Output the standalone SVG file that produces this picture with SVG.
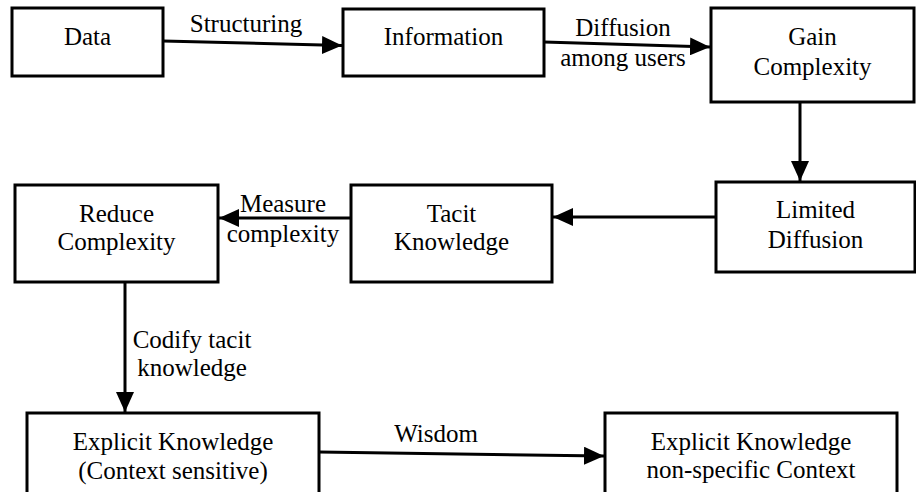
<svg xmlns="http://www.w3.org/2000/svg" width="916" height="492" viewBox="0 0 916 492">
<defs>
<style>
.box{fill:#fff;stroke:#000;stroke-width:3}
.t{font-family:'Liberation Serif','Times New Roman',serif;font-size:25px;fill:#000;text-anchor:middle}
.c{stroke:#000;stroke-width:3;fill:none}
</style>
<marker id="ah" viewBox="0 0 20 18" refX="20" refY="9" markerWidth="20" markerHeight="18" markerUnits="userSpaceOnUse" orient="auto">
<path d="M0,0 L20,9 L0,18 Z" fill="#000"/>
</marker>
</defs>
<rect width="916" height="492" fill="#fff"/>
<g id="connectors">
<path class="c" d="M163,41 L342,45.5" marker-end="url(#ah)"/>
<path class="c" d="M544,42 L710,47" marker-end="url(#ah)"/>
<path class="c" d="M800,102 L800,181" marker-end="url(#ah)"/>
<path class="c" d="M716,217 L553,217" marker-end="url(#ah)"/>
<path class="c" d="M351,218 L219,218" marker-end="url(#ah)"/>
<path class="c" d="M125,282 L125,412" marker-end="url(#ah)"/>
<path class="c" d="M319,452 L604,456" marker-end="url(#ah)"/>
<text class="t" x="246" y="32">Structuring</text>
<text class="t" x="623" y="36">Diffusion</text>
<text class="t" x="623" y="66">among users</text>
<text class="t" x="283" y="212">Measure</text>
<text class="t" x="283" y="242">complexity</text>
<text class="t" x="192" y="348">Codify tacit</text>
<text class="t" x="192" y="376">knowledge</text>
<text class="t" x="436" y="442">Wisdom</text>
</g>
<g id="data"><rect class="box" x="12" y="8" width="151" height="68"/><text class="t" x="87.5" y="45">Data</text></g>
<g id="information"><rect class="box" x="343" y="9" width="201" height="67"/><text class="t" x="443.5" y="45">Information</text></g>
<g id="gain"><rect class="box" x="711" y="8" width="203" height="94"/><text class="t" x="812.5" y="45">Gain</text><text class="t" x="812.5" y="75">Complexity</text></g>
<g id="limited"><rect class="box" x="716" y="182" width="199" height="90"/><text class="t" x="815.5" y="218">Limited</text><text class="t" x="815.5" y="248">Diffusion</text></g>
<g id="tacit"><rect class="box" x="351" y="185" width="201" height="97"/><text class="t" x="451.5" y="222">Tacit</text><text class="t" x="451.5" y="250">Knowledge</text></g>
<g id="reduce"><rect class="box" x="15" y="185" width="203" height="97"/><text class="t" x="116.5" y="222">Reduce</text><text class="t" x="116.5" y="250">Complexity</text></g>
<g id="explicit-sensitive"><rect class="box" x="27" y="413" width="292" height="100"/><text class="t" x="173" y="450">Explicit Knowledge</text><text class="t" x="173" y="479">(Context sensitive)</text></g>
<g id="explicit-nonspecific"><rect class="box" x="605" y="413" width="292" height="100"/><text class="t" x="751" y="450">Explicit Knowledge</text><text class="t" x="751" y="478">non-specific Context</text></g>
</svg>
